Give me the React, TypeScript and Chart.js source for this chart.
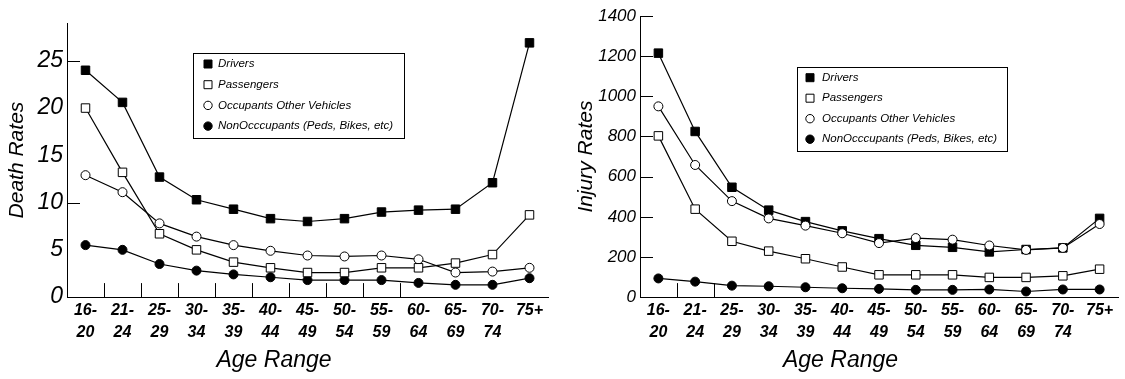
import { useEffect, useRef } from "react";
import { Chart, registerables } from "chart.js";

Chart.register(...registerables);

const ageLabels: (string | string[])[] = [
  ["16-", "20"], ["21-", "24"], ["25-", "29"], ["30-", "34"], ["35-", "39"],
  ["40-", "44"], ["45-", "49"], ["50-", "54"], ["55-", "59"], ["60-", "64"],
  ["65-", "69"], ["70-", "74"], "75+",
];

const seriesNames = [
  "Drivers",
  "Passengers",
  "Occupants Other Vehicles",
  "NonOcccupants (Peds, Bikes, etc)",
];

const deathDrivers = [24, 20.6, 12.7, 10.3, 9.3, 8.3, 8.0, 8.3, 9.0, 9.2, 9.3, 12.1, 26.9];
const deathPassengers = [20.0, 13.2, 6.7, 5.0, 3.7, 3.1, 2.6, 2.6, 3.1, 3.1, 3.6, 4.5, 8.7];
const deathOccupants = [12.9, 11.1, 7.8, 6.4, 5.5, 4.9, 4.4, 4.3, 4.4, 4.0, 2.6, 2.7, 3.1];
const deathNonOccupants = [5.5, 5.0, 3.5, 2.8, 2.4, 2.1, 1.8, 1.8, 1.8, 1.5, 1.3, 1.3, 2.0];

const injuryDrivers = [1215, 825, 547, 433, 376, 330, 291, 258, 248, 225, 237, 245, 392];
const injuryPassengers = [803, 438, 278, 229, 191, 150, 111, 111, 111, 98, 98, 106, 139];
const injuryOccupants = [950, 658, 478, 392, 356, 318, 269, 294, 286, 257, 235, 245, 364];
const injuryNonOccupants = [93, 77, 57, 54, 49, 44, 41, 36, 36, 38, 28, 38, 38];

const deathTickMarks = [25, 10];
const injuryTickMarks = [200, 400, 600, 800, 1000, 1200, 1400];

const SANS = "'Liberation Sans', Arial, sans-serif";

function narrowAvailable(): boolean {
  try {
    const c = document.createElement("canvas").getContext("2d");
    if (!c) return false;
    c.font = "40px 'Liberation Sans Narrow', monospace";
    const a = c.measureText("Death Rates 1234").width;
    c.font = "40px monospace";
    const b = c.measureText("Death Rates 1234").width;
    return Math.abs(a - b) > 1;
  } catch {
    return false;
  }
}
const HAS_NARROW = narrowAvailable();
const NARROW = HAS_NARROW ? "'Liberation Sans Narrow', " + SANS : SANS;
const nz = (narrowSize: number, regularSize: number) => (HAS_NARROW ? narrowSize : regularSize);

const decorPlugin = {
  id: "decor",
  afterDraw(chart: any, _args: any, opts: any) {
    const ctx = chart.ctx as CanvasRenderingContext2D;
    const { left, bottom } = chart.chartArea;
    const xs = chart.scales.x;
    const ys = chart.scales.y;
    ctx.save();
    ctx.strokeStyle = "#000";
    ctx.lineWidth = 1;
    ctx.beginPath();
    for (const v of opts.yMarks) {
      const py = Math.round(ys.getPixelForValue(v)) + 0.5;
      ctx.moveTo(left, py);
      ctx.lineTo(left + 13, py);
    }
    for (let i = 0; i < opts.xMarks; i++) {
      const px = Math.round((xs.getPixelForValue(i) + xs.getPixelForValue(i + 1)) / 2) + 0.5;
      ctx.moveTo(px, bottom);
      ctx.lineTo(px, bottom - 14);
    }
    ctx.stroke();

    const L = opts.legend;
    ctx.strokeRect(L.x + 0.5, L.y + 0.5, L.w, L.h);
    ctx.font = "italic 11.5px " + SANS;
    ctx.textBaseline = "middle";
    ctx.textAlign = "left";
    chart.data.datasets.forEach((ds: any, i: number) => {
      const cy = L.rowY + i * L.rowStep;
      ctx.beginPath();
      if (ds.pointStyle === "rect") ctx.rect(L.markerX - 4, cy - 4, 8, 8);
      else ctx.arc(L.markerX, cy, 4.2, 0, Math.PI * 2);
      ctx.fillStyle = ds.pointBackgroundColor;
      ctx.fill();
      ctx.strokeStyle = "#000";
      ctx.stroke();
      ctx.fillStyle = "#000";
      ctx.fillText(ds.label, L.textX, cy);
    });
    ctx.restore();
  },
};

function makeDatasets(vals: number[][], orders: number[]) {
  const styles = [
    { pointStyle: "rect", pointRadius: 6, pointBackgroundColor: "#000" },
    { pointStyle: "rect", pointRadius: 6, pointBackgroundColor: "#fff" },
    { pointStyle: "circle", pointRadius: 4.5, pointBackgroundColor: "#fff" },
    { pointStyle: "circle", pointRadius: 4.5, pointBackgroundColor: "#000" },
  ];
  return vals.map((data, i) => ({
    label: seriesNames[i],
    data,
    borderColor: "#000",
    borderWidth: 1.2,
    pointBorderColor: "#000",
    pointBorderWidth: 1,
    pointHoverRadius: styles[i].pointRadius,
    tension: 0,
    fill: false,
    order: orders[i],
    ...styles[i],
  }));
}

function makeConfig(p: any): any {
  return {
    type: "line",
    data: { labels: ageLabels, datasets: makeDatasets(p.vals, p.orders) },
    plugins: [decorPlugin],
    options: {
      animation: false,
      responsive: false,
      maintainAspectRatio: false,
      events: [],
      layout: { padding: { left: 0, right: p.padRight, top: p.padTop, bottom: 3 } },
      plugins: {
        legend: { display: false },
        tooltip: { enabled: false },
        title: {
          display: true,
          text: "Age Range",
          position: "bottom",
          color: "#000",
          padding: 0,
          font: { family: SANS, size: 23, style: "italic", weight: "normal", lineHeight: 1.3 },
        },
        decor: { yMarks: p.yMarks, xMarks: p.xMarks, legend: p.legend },
      },
      scales: {
        x: {
          offset: true,
          grid: { display: false, drawTicks: false },
          border: { display: true, color: "#000", width: 1 },
          ticks: {
            color: "#000",
            autoSkip: false,
            maxRotation: 0,
            padding: 2,
            font: { family: NARROW, size: nz(19, 16), weight: "bold", style: "italic", lineHeight: nz(1.15, 1.4) },
          },
          afterFit: (s: any) => { s.height = 49; },
        },
        y: {
          min: 0,
          max: p.max,
          grid: { display: false, drawTicks: false },
          border: { display: true, color: "#000", width: 1 },
          ticks: {
            stepSize: p.step,
            includeBounds: false,
            color: "#000",
            padding: 4,
            font: p.yTickFont,
            callback: (v: any) => String(v),
          },
          title: {
            display: true,
            text: p.yTitle,
            color: "#000",
            padding: { top: p.yTitlePad, bottom: 0 },
            font: { family: NARROW, size: nz(25, 21), style: "italic", weight: "normal", lineHeight: 1.2 },
          },
          afterFit: (s: any) => { s.width = p.yAxisWidth; },
        },
      },
    },
  };
}

function ChartCanvas({ config, left, width }: { config: any; left: number; width: number }) {
  const ref = useRef<HTMLCanvasElement | null>(null);
  useEffect(() => {
    if (!ref.current) return;
    const chart = new Chart(ref.current, config);
    return () => chart.destroy();
  }, [config]);
  return (
    <canvas
      ref={ref}
      width={width}
      height={379}
      style={{ position: "absolute", left, top: 0, width, height: 379, display: "block" }}
    />
  );
}

const deathConfig = makeConfig({
  vals: [deathDrivers, deathPassengers, deathOccupants, deathNonOccupants],
  orders: [0, 1, 2, 3],
  max: 29,
  step: 5,
  padTop: 23,
  padRight: 12,
  yAxisWidth: 67,
  yTitle: "Death Rates",
  yTitlePad: nz(3, 5),
  yTickFont: { family: NARROW, size: nz(28, 23), style: "italic", weight: "normal" },
  yMarks: deathTickMarks,
  xMarks: 9,
  legend: { x: 193, y: 53, w: 211, h: 85, rowY: 64, rowStep: 20.7, markerX: 208, textX: 218 },
});

const injuryConfig = makeConfig({
  vals: [injuryDrivers, injuryPassengers, injuryOccupants, injuryNonOccupants],
  orders: [1, 2, 0, 3],
  max: 1400,
  step: 200,
  padTop: 16,
  padRight: 4,
  yAxisWidth: 80,
  yTitle: "Injury Rates",
  yTitlePad: nz(12, 14),
  yTickFont: { family: SANS, size: 17, style: "italic", weight: "normal" },
  yMarks: injuryTickMarks,
  xMarks: 2,
  legend: { x: 237, y: 67, w: 210, h: 84, rowY: 77.7, rowStep: 20.5, markerX: 250, textX: 262 },
});

export default function App() {
  return (
    <div style={{ position: "absolute", left: 0, top: 0, width: 1125, height: 379, background: "#fff" }}>
      <ChartCanvas config={deathConfig} left={0} width={560} />
      <ChartCanvas config={injuryConfig} left={560} width={565} />
    </div>
  );
}
